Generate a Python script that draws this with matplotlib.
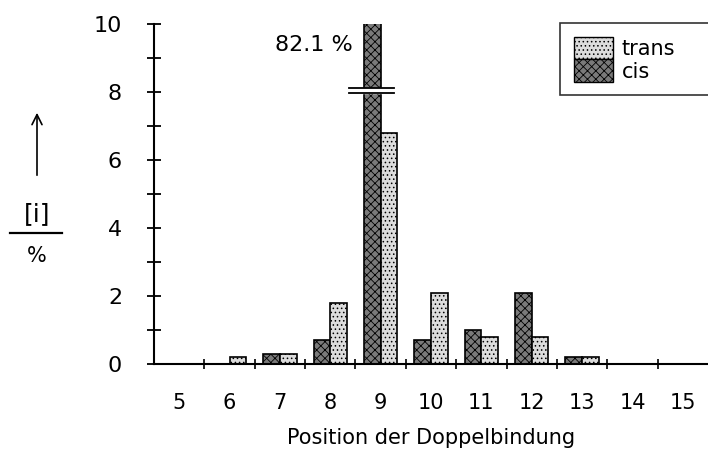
import numpy as np
import matplotlib
matplotlib.use("Agg")
import matplotlib.pyplot as plt
from matplotlib.patches import Patch

plt.rcParams['font.family'] = ['DejaVu Sans']
plt.rcParams['hatch.linewidth'] = 0.6

# data: share of isomers by double bond position
positions = [5, 6, 7, 8, 9, 10, 11, 12, 13, 14, 15]
cis = [0, 0, 0.3, 0.7, 82.1, 0.7, 1.0, 2.1, 0.2, 0, 0]
trans = [0, 0.2, 0.3, 1.8, 6.8, 2.1, 0.8, 0.8, 0.2, 0, 0]
peak_label = "82.1 %"
break_at = 8.0

fig = plt.figure(figsize=(7.08, 4.57), dpi=100)
ax = fig.add_axes([0.2175, 0.2035, 0.7825, 0.744])

x = np.array(positions)
w = 0.33
ax.bar(x - w/2, cis, width=w, facecolor='#7a7a7a', edgecolor='black',
       hatch='xxxx', linewidth=1.2)
ax.bar(x + w/2, trans, width=w, facecolor='#dcdcdc', edgecolor='black',
       hatch='....', linewidth=1.2)

# axis break on the big cis bar
i9 = positions.index(9)
bx = np.array([x[i9] - 0.62, x[i9] + 0.27])
ax.fill_between(bx, break_at - 0.03, break_at + 0.12, color='white', zorder=3)
ax.plot(bx, [break_at - 0.03] * 2, color='black', lw=1.3, zorder=4)
ax.plot(bx, [break_at + 0.12] * 2, color='black', lw=1.3, zorder=4)
ax.text(x[i9] - w - 0.22, 9.38, peak_label, ha='right', va='center', fontsize=16)

ax.set_xlim(4.5, 15.5)
ax.set_ylim(0, 10)
for s in ['top', 'right']:
    ax.spines[s].set_visible(False)
ax.spines['left'].set_linewidth(1.5)
ax.spines['bottom'].set_linewidth(1.5)

ax.set_yticks([0, 2, 4, 6, 8, 10])
ax.set_yticks([1, 3, 5, 7, 9], minor=True)
ax.tick_params(axis='y', which='both', direction='inout', length=10, width=1.3,
               labelsize=16, pad=18)
ax.set_xticks(positions)
ax.set_xticks(np.arange(5.5, 15, 1), minor=True)
ax.tick_params(axis='x', which='major', length=0, labelsize=15, pad=21)
ax.tick_params(axis='x', which='minor', direction='inout', length=7, width=1.2)
ax.set_xlabel("Position der Doppelbindung", fontsize=15, labelpad=11)

# y axis label: arrow, [i] over %
ax.annotate('', xy=(37 / 708, 1 - 110 / 457), xytext=(37 / 708, 1 - 178 / 457),
            xycoords='figure fraction',
            arrowprops=dict(arrowstyle='->', lw=1.2, color='black',
                            mutation_scale=18))
fig.text(37 / 708, 1 - 214 / 457, "[i]", ha='center', va='center', fontsize=18)
fig.add_artist(plt.Line2D([10 / 708, 62 / 708], [1 - 233 / 457] * 2,
                          color='black', lw=1.6))
fig.text(37 / 708, 1 - 256 / 457, "%", ha='center', va='center', fontsize=15)

handles = [Patch(facecolor='#dcdcdc', edgecolor='black', hatch='....'),
           Patch(facecolor='#7a7a7a', edgecolor='black', hatch='xxxx')]
leg = ax.legend(handles, ['trans', 'cis'], loc='upper left',
                bbox_to_anchor=(0.733, 1.003, 0.3, 0), mode='expand',
                fancybox=False, fontsize=15,
                handlelength=1.9, handleheight=1.3, labelspacing=0.0,
                handletextpad=0.4, borderaxespad=0, borderpad=0.65)
leg.get_frame().set_edgecolor('black')
leg.get_frame().set_linewidth(1.2)

fig.savefig("out.png", dpi=100)
